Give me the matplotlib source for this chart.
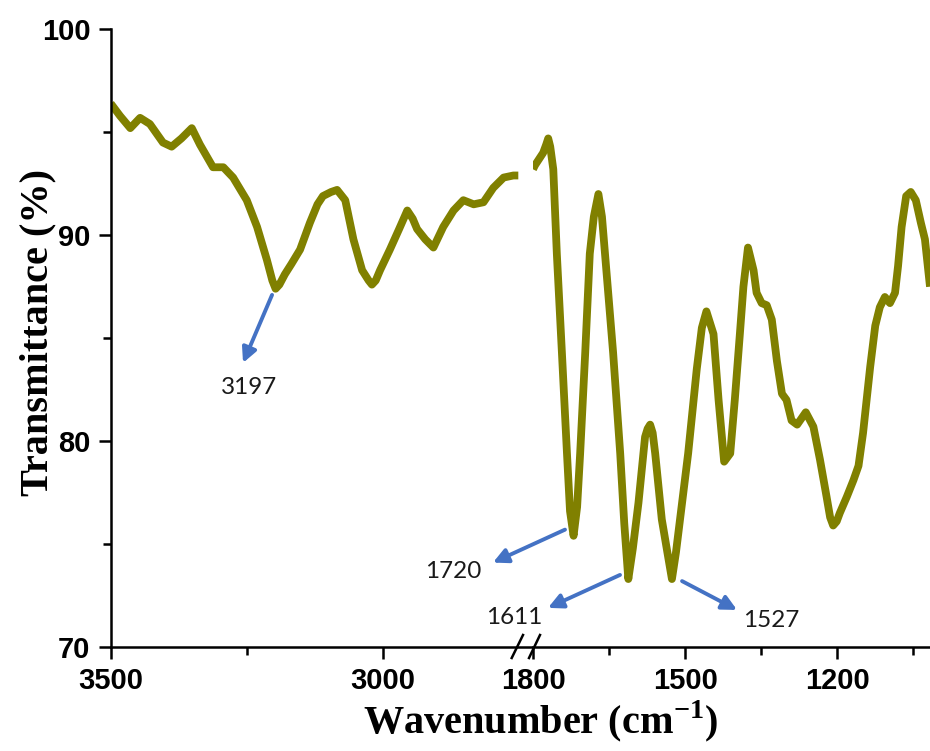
import matplotlib
matplotlib.use('Agg')
import matplotlib.pyplot as plt
from matplotlib.lines import Line2D

plt.rcParams['mathtext.fontset'] = 'custom'
plt.rcParams['mathtext.rm'] = 'Liberation Serif'
plt.rcParams['mathtext.bf'] = 'Liberation Serif:bold'

# FTIR spectrum, high wavenumber part (cm-1, %T)
wn_high = [3500, 3483, 3464, 3446, 3428, 3404, 3388, 3370, 3351, 3336,
           3312, 3293, 3275, 3250, 3231, 3213, 3203, 3197, 3190, 3180,
           3168, 3152, 3134, 3120, 3110, 3095, 3084, 3069, 3054, 3038,
           3026, 3020, 3013, 3005, 2987, 2970, 2955, 2945, 2937, 2922,
           2907, 2889, 2870, 2852, 2833, 2815, 2797, 2778, 2760, 2751]
t_high = [96.4, 95.8, 95.2, 95.7, 95.4, 94.5, 94.3, 94.7, 95.2, 94.4,
          93.3, 93.3, 92.8, 91.7, 90.4, 88.8, 87.8, 87.4, 87.6, 88.1,
          88.6, 89.3, 90.6, 91.5, 91.9, 92.1, 92.2, 91.7, 89.8, 88.3,
          87.8, 87.6, 87.8, 88.3, 89.3, 90.3, 91.2, 90.8, 90.3, 89.8,
          89.4, 90.4, 91.2, 91.7, 91.5, 91.6, 92.3, 92.8, 92.9, 92.9]

# fingerprint part
wn_low = [1800, 1796, 1780, 1774, 1770, 1766, 1760, 1753, 1743, 1733,
          1727, 1720, 1713, 1707, 1697, 1688, 1680, 1671, 1664, 1658,
          1642, 1628, 1620, 1612, 1603, 1592, 1579, 1574, 1569, 1564,
          1559, 1546, 1535, 1526, 1518, 1510, 1494, 1477, 1467, 1458,
          1444, 1434, 1423, 1411, 1402, 1392, 1385, 1376, 1365, 1359,
          1349, 1339, 1329, 1319, 1309, 1300, 1290, 1279, 1262, 1247,
          1234, 1221, 1214, 1208, 1201, 1195, 1181, 1168, 1158, 1149,
          1142, 1135, 1125, 1116, 1106, 1096, 1086, 1080, 1073, 1064,
          1055, 1045, 1035, 1027, 1017]
t_low = [93.2, 93.4, 94.0, 94.4, 94.7, 94.3, 93.2, 89.1, 84.3, 79.4,
         76.6, 75.4, 76.8, 79.4, 84.3, 89.1, 90.9, 92.0, 90.9, 89.1,
         84.3, 79.4, 76.0, 73.3, 74.8, 77.0, 80.2, 80.6, 80.8, 80.4,
         79.4, 76.2, 74.6, 73.3, 74.6, 76.2, 79.4, 83.5, 85.5, 86.3,
         85.2, 82.0, 79.0, 79.4, 82.0, 85.2, 87.5, 89.4, 88.3, 87.2,
         86.7, 86.6, 85.9, 83.9, 82.3, 82.0, 81.0, 80.8, 81.4, 80.7,
         79.1, 77.3, 76.3, 75.9, 76.1, 76.5, 77.3, 78.1, 78.8, 80.4,
         82.0, 83.6, 85.6, 86.5, 87.0, 86.7, 87.2, 88.5, 90.4, 91.9,
         92.1, 91.7, 90.6, 89.8, 87.5]

peak_labels = ['3197', '1720', '1611', '1527']

line_col = '#808000'
arrow_col = '#4472C4'
W, H = 930, 751

fig = plt.figure(figsize=(W / 100, H / 100), dpi=100)
x0, x_brk, x1 = 110.7, 533, 930
y_top, y_bot = 29.3, 647
ax1 = fig.add_axes([x0 / W, 1 - y_bot / H, (x_brk - x0) / W, (y_bot - y_top) / H])
ax2 = fig.add_axes([x_brk / W, 1 - y_bot / H, (x1 - x_brk) / W, (y_bot - y_top) / H])

for ax, wn, t in [(ax1, wn_high, t_high), (ax2, wn_low, t_low)]:
    ax.plot(wn, t, color=line_col, lw=5.6, solid_joinstyle='round',
            solid_capstyle='butt')
    ax.set_ylim(70, 100)
    ax.spines['top'].set_visible(False)
    ax.spines['right'].set_visible(False)
    for s in ax.spines.values():
        s.set_linewidth(1.8)
    ax.tick_params(which='major', direction='out', length=8.5, width=1.8, pad=6)
    ax.tick_params(which='minor', direction='out', length=5.5, width=1.8)

ax1.set_xlim(3500, 2724)
ax1.set_xticks([3500, 3000])
ax1.set_xticks([3250], minor=True)
ax1.set_yticks([70, 80, 90, 100])
ax1.set_yticks([75, 85, 95], minor=True)

ax2.set_xlim(1800, 1017)
ax2.set_xticks([1800, 1500, 1200])
ax2.set_xticks([1650, 1350, 1050], minor=True)
ax2.spines['left'].set_visible(False)
ax2.set_yticks([])

for ax in (ax1, ax2):
    for lab in ax.get_xticklabels() + ax.get_yticklabels():
        lab.set_fontfamily('Liberation Sans')
        lab.set_fontweight('bold')
        lab.set_fontsize(21)

# break marks
for xa, xb in [(511.7, 523), (529, 540)]:
    fig.add_artist(Line2D([xa / W, xb / W], [1 - 658 / H, 1 - 635 / H],
                          transform=fig.transFigure, color='black', lw=1.8))

# peak annotations: (axis, arrow tail, arrow head, text position)
ann_pos = [
    (ax1, (3203.5, 87.1), (3256.8, 83.8), (3245.8, 82.6)),
    (ax2, (1736.9, 75.7), (1878.9, 74.1), (1957.8, 73.65)),
    (ax2, (1628.4, 73.5), (1770.4, 71.9), (1837.5, 71.45)),
    (ax2, (1506.0, 73.2), (1397.6, 71.8), (1330.6, 71.3)),
]
for lab, (ax, tail, head, tpos) in zip(peak_labels, ann_pos):
    ax.annotate('', xy=head, xytext=tail, annotation_clip=False,
                arrowprops=dict(arrowstyle='-|>', color=arrow_col, lw=2.8,
                                mutation_scale=22, shrinkA=0, shrinkB=0))
    ax.text(tpos[0], tpos[1], lab, ha='center', va='center', fontsize=17.5,
            family='Lato', color='#1a1a1a', clip_on=False)

fig.text(38 / W, 1 - 332 / H, 'Transmittance (%)', rotation=90, ha='center',
         va='center', family='Liberation Serif', weight='bold', fontsize=29)
fig.text(540 / W, 1 - 733 / H, r'Wavenumber (cm$^{\mathbf{-1}}$)', ha='center',
         va='baseline', family='Liberation Serif', weight='bold', fontsize=29)

fig.savefig('out.png', dpi=100)
